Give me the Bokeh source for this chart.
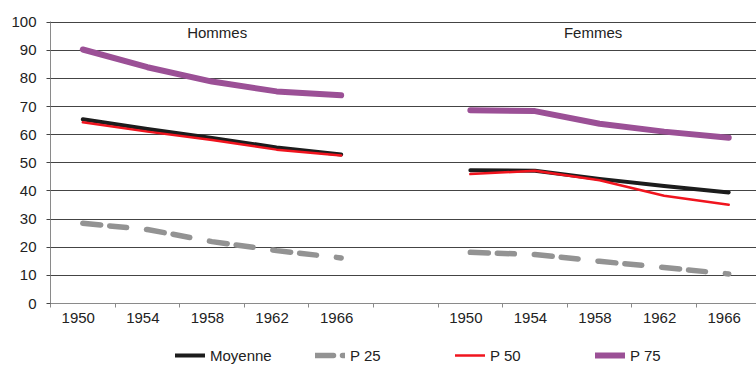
import math
from bokeh.plotting import figure
from bokeh.layouts import column
from bokeh.models import Range1d, FixedTicker, Legend, LegendItem, ColumnDataSource
from bokeh.core.properties import value
from bokeh.embed import file_html
from bokeh.resources import INLINE

# ---- data ----
years = ["1950", "1954", "1958", "1962", "1966"]
groups = ["Hommes", "Femmes"]
series_names = ["Moyenne", "P 25", "P 50", "P 75"]

moyenne_h = [65.5, 62.0, 58.8, 55.5, 53.0]
moyenne_f = [47.4, 47.2, 44.3, 41.8, 39.5]
p25_h = [28.5, 26.3, 22.0, 18.8, 16.2]
p25_f = [18.2, 17.4, 15.0, 12.8, 10.5]
p50_h = [64.4, 61.1, 58.1, 54.7, 52.6]
p50_f = [46.0, 47.2, 43.8, 38.3, 35.1]
p75_h = [90.3, 84.0, 78.9, 75.4, 74.0]
p75_f = [68.7, 68.4, 63.9, 61.1, 58.9]

y_ticks = [0, 10, 20, 30, 40, 50, 60, 70, 80, 90, 100]

# category positions: 5 years (Hommes), one empty slot, 5 years (Femmes)
h_pos = list(range(len(years)))
f_pos = [len(years) + 1 + i for i in range(len(years))]
x_all = h_pos + [math.nan] + f_pos

def join(h, f):
    return h + [math.nan] + f

FONT = "Liberation Sans"
TXT = "#222222"

styles = {
    "Moyenne": dict(line_color="#1c1c1c", line_width=4),
    "P 25": dict(line_color="#939393", line_width=5.5, line_dash="18 9 17 20"),
    "P 50": dict(line_color="#f0141e", line_width=2.5),
    "P 75": dict(line_color="#9b5096", line_width=6),
}

p = figure(frame_width=706, frame_height=282,
           min_border_left=50, min_border_right=0, min_border_top=21, min_border_bottom=37,
           x_range=Range1d(-0.5, 10.43), y_range=Range1d(0, 100.25),
           output_backend="svg", toolbar_location=None,
           background_fill_color="white", border_fill_color="white")
p.outline_line_color = None
p.xgrid.grid_line_color = None
p.ygrid.grid_line_color = "#444444"
p.ygrid.grid_line_width = 1
p.ygrid.ticker = FixedTicker(ticks=y_ticks)

# y axis
p.yaxis.ticker = FixedTicker(ticks=y_ticks)
p.yaxis.axis_line_color = "#8a8a8a"
p.yaxis.major_tick_line_color = "#444444"
p.yaxis.major_tick_out = 4
p.yaxis.major_tick_in = 0
p.yaxis.minor_tick_line_color = None
p.yaxis.major_label_standoff = 10
p.yaxis.major_label_text_font = FONT
p.yaxis.major_label_text_font_size = "15px"
p.yaxis.major_label_text_color = TXT

# x axis: labels at category centres, tick marks at category boundaries
label_pos = [x - 0.07 for x in h_pos + f_pos]
bounds = [x - 0.5 for x in range(len(years) * 2 + 1)] + [len(years) * 2 + 0.5]
p.xaxis.ticker = FixedTicker(ticks=label_pos, minor_ticks=bounds)
p.xaxis.major_label_overrides = {t: lab for t, lab in zip(label_pos, years + years)}
p.xaxis.axis_line_color = "#8a8a8a"
p.xaxis.major_tick_line_color = None
p.xaxis.major_tick_out = 0
p.xaxis.major_tick_in = 0
p.xaxis.minor_tick_line_color = "#8a8a8a"
p.xaxis.minor_tick_out = 4
p.xaxis.minor_tick_in = 0
p.xaxis.major_label_standoff = 5
p.xaxis.major_label_text_font = FONT
p.xaxis.major_label_text_font_size = "15px"
p.xaxis.major_label_text_color = TXT

series = {
    "P 25": join(p25_h, p25_f),
    "Moyenne": join(moyenne_h, moyenne_f),
    "P 50": join(p50_h, p50_f),
    "P 75": join(p75_h, p75_f),
}
for name, ys in series.items():
    p.line(x_all, ys, line_cap="round", line_join="round", **styles[name])

# panel titles
src = ColumnDataSource(dict(x=[2.08, 7.9], y=[96.5, 96.5], t=groups))
p.text(x="x", y="y", text="t", source=src, text_font=value(FONT), text_font_size="15px",
       text_color=TXT, text_align="center", text_baseline="middle")

# legend strip below the chart (its frame is aligned with the chart frame)
leg = figure(frame_width=706, height=25, min_border_left=50, min_border_right=0,
             min_border_top=0, min_border_bottom=0,
             x_axis_type=None, y_axis_type=None, output_backend="svg", toolbar_location=None,
             x_range=Range1d(0, 1), y_range=Range1d(0, 1))
leg.outline_line_color = None
items = []
for name in series_names:
    r = leg.line([math.nan, math.nan], [math.nan, math.nan], line_cap="round", **styles[name])
    items.append(LegendItem(label=name, renderers=[r]))
legend = Legend(items=items, orientation="horizontal", location=(125, 0),
                glyph_width=30, glyph_height=20, label_width=103, spacing=2,
                label_standoff=5, padding=0, margin=0,
                border_line_color=None, background_fill_alpha=0,
                label_text_font=FONT, label_text_font_size="15px", label_text_color=TXT)
leg.add_layout(legend, "center")

layout = column(p, leg, spacing=0)
open("out.html", "w").write(file_html(layout, INLINE))
